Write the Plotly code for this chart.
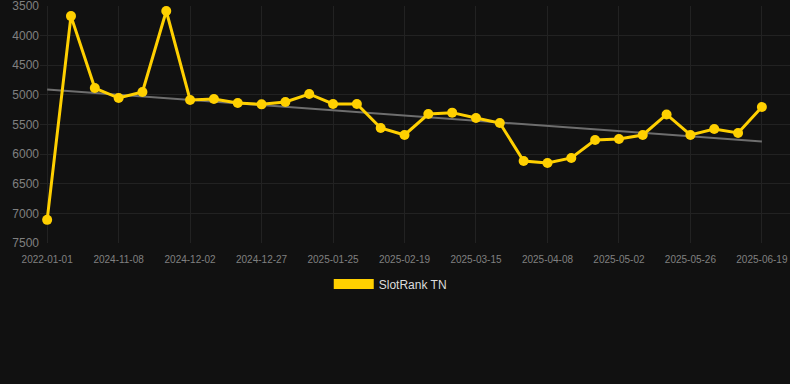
import numpy as np
import plotly.graph_objects as go

tick_labels = ["2022-01-01", "2024-11-08", "2024-12-02", "2024-12-27", "2025-01-25",
               "2025-02-19", "2025-03-15", "2025-04-08", "2025-05-02", "2025-05-26", "2025-06-19"]

rank_values = [7110, 3670, 4884, 5053, 4951, 3584, 5086, 5070, 5137, 5160,
               5120, 4985, 5154, 5154, 5559, 5677, 5323, 5300, 5390, 5475,
               6116, 6150, 6065, 5762, 5745, 5677, 5330, 5677, 5576, 5643, 5205]

idx = np.arange(len(rank_values))
slope, intercept = np.polyfit(idx, rank_values, 1)
trend = slope * idx + intercept

fig = go.Figure()
fig.add_trace(go.Scatter(
    x=idx, y=trend, mode="lines",
    line=dict(color="#6e6e6e", width=2),
    showlegend=False, hoverinfo="skip"))
fig.add_trace(go.Scatter(
    x=idx, y=rank_values, mode="lines+markers",
    line=dict(color="#FFD000", width=3),
    marker=dict(color="#FFD000", size=10),
    showlegend=False, name="SlotRank TN"))
fig.add_trace(go.Scatter(
    x=[None], y=[None], mode="lines",
    line=dict(color="#FFD000", width=11),
    name="SlotRank TN", showlegend=True))

fig.update_layout(
    width=790, height=384,
    margin=dict(l=40, r=0, t=6, b=141),
    paper_bgcolor="#111111", plot_bgcolor="#111111",
    font=dict(family="Liberation Sans, Arial, sans-serif", color="#808080"),
    showlegend=True,
    legend=dict(orientation="h", x=0.467, xanchor="center", y=-0.173, yanchor="middle",
                font=dict(size=12, color="#dddddd"), bgcolor="rgba(0,0,0,0)",
                itemwidth=40),
    xaxis=dict(
        range=[-0.3, 31.18],
        tickmode="array", tickvals=idx[::3].tolist(), ticktext=tick_labels,
        tickfont=dict(size=10, color="#808080"),
        showgrid=True, gridcolor="#222222", gridwidth=1,
        zeroline=False, showline=False, ticks="", ticklabelstandoff=9,
        ticklabeloverflow="allow"),
    yaxis=dict(
        range=[7500.5, 3499.5],
        tickmode="array", tickvals=list(range(3500, 7501, 500)),
        tickfont=dict(size=12, color="#808080"),
        showgrid=True, gridcolor="#222222", gridwidth=1,
        zeroline=False, showline=False, ticks="",
        ticklabeloverflow="allow"),
)

fig.write_html("out.html")
